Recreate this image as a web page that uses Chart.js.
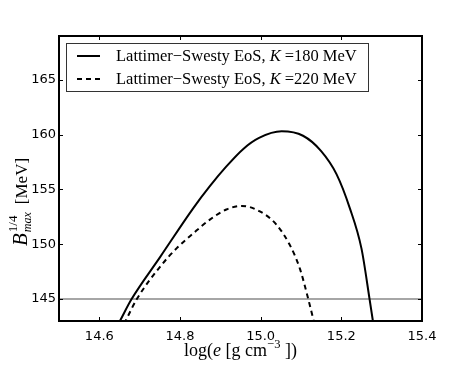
<!DOCTYPE html>
<html>
<head>
<meta charset="utf-8">
<script src="https://cdn.jsdelivr.net/npm/chart.js@4/dist/chart.umd.min.js"></script>
<style>
  html, body { margin: 0; padding: 0; background: #fff; }
  #wrap { width: 469px; height: 365px; }
</style>
</head>
<body>
<div id="wrap"><canvas id="myChart" width="469" height="365"></canvas></div>
<script>
// данные
let xK180 = [14.635, 14.652, 14.680, 14.751, 14.833, 14.874, 14.915, 14.957, 14.996, 15.052, 15.105, 15.150, 15.188, 15.221, 15.250, 15.270, 15.278, 15.284];
let yK180 = [141.9, 143.07, 145.0, 148.85, 153.3, 155.3, 157.1, 158.7, 159.7, 160.3, 159.9, 158.5, 156.4, 153.3, 149.6, 145.0, 143.07, 141.5];
let xK220 = [14.652, 14.666, 14.693, 14.751, 14.792, 14.833, 14.874, 14.915, 14.953, 14.998, 15.039, 15.072, 15.097, 15.118, 15.130, 15.138];
let yK220 = [142.0, 143.07, 145.0, 147.97, 149.65, 151.0, 152.25, 153.17, 153.5, 153.0, 151.8, 149.95, 147.8, 145.0, 143.23, 142.0];
let xLimit = [14.5, 15.4];
let yLimit = [145, 145];
let xTicks = [14.6, 14.8, 15.0, 15.2, 15.4];
let yTicks = [145, 150, 155, 160, 165];
let legendLabels = ['180', '220'];

function pts(xs, ys){
    return xs.map(function(x, i){ return {x: x, y: ys[i]}; });
}

const serif = '"Liberation Serif", "DejaVu Serif", serif';

// рамка, внутренние риски, подписи осей и легенда
const decor = {
    id: 'decor',
    afterDraw(chart){
        const c = chart.ctx;
        const a = chart.chartArea;
        const sx = chart.scales.x, sy = chart.scales.y;
        c.save();
        c.strokeStyle = '#000';
        c.lineWidth = 1;
        xTicks.forEach(function(v){
            let px = Math.round(sx.getPixelForValue(v)) + 0.5;
            c.beginPath();
            c.moveTo(px, a.bottom); c.lineTo(px, a.bottom - 4);
            c.moveTo(px, a.top); c.lineTo(px, a.top + 4);
            c.stroke();
        });
        yTicks.forEach(function(v){
            let py = Math.round(sy.getPixelForValue(v)) + 0.5;
            c.beginPath();
            c.moveTo(a.left, py); c.lineTo(a.left + 4, py);
            c.moveTo(a.right, py); c.lineTo(a.right - 4, py);
            c.stroke();
        });
        c.lineWidth = 2;
        c.strokeRect(a.left, a.top, a.right - a.left, a.bottom - a.top);

        // легенда
        let lx = 66.5, ly = 43.5, lw = 302, lh = 48;
        c.fillStyle = '#fff';
        c.fillRect(lx, ly, lw, lh);
        c.lineWidth = 1;
        c.strokeStyle = '#333';
        c.strokeRect(lx, ly, lw, lh);
        c.strokeStyle = '#000';
        c.lineWidth = 2;
        [56, 79].forEach(function(yy, i){
            c.setLineDash(i == 0 ? [] : [5, 4]);
            c.beginPath();
            c.moveTo(77, yy); c.lineTo(100, yy);
            c.stroke();
            c.setLineDash([]);
            c.fillStyle = '#000';
            c.textBaseline = 'alphabetic';
            c.textAlign = 'left';
            let tx = 116, ty = yy + 5;
            c.font = '16.5px ' + serif;
            let t1 = 'Lattimer\u2212Swesty EoS, ';
            c.fillText(t1, tx, ty);
            tx += c.measureText(t1).width;
            c.font = 'italic 16.5px ' + serif;
            c.fillText('K', tx, ty);
            tx += c.measureText('K').width + 4;
            c.font = '16.5px ' + serif;
            c.fillText('=' + legendLabels[i] + ' MeV', tx, ty);
        });

        // подпись оси X
        let runs = [
            ['log(', '18px', 0], ['e', 'italic 18px', 0], [' [g cm', '18px', 0],
            ['\u22123', '12.5px', -8], [' ])', '18px', 0]
        ];
        let total = 0;
        runs.forEach(function(r){ c.font = r[1] + ' ' + serif; total += c.measureText(r[0]).width; });
        let x0 = (a.left + a.right) / 2 - total / 2, by = 356;
        runs.forEach(function(r){
            c.font = r[1] + ' ' + serif;
            c.fillText(r[0], x0, by + r[2]);
            x0 += c.measureText(r[0]).width;
        });

        // подпись оси Y (повернута)
        c.translate(27, 246);
        c.rotate(-Math.PI / 2);
        c.font = 'italic 21px ' + serif;
        c.fillText('B', 0, 0);
        let bw = c.measureText('B').width;
        c.font = '13px ' + serif;
        c.fillText('1/4', bw + 1, -10);
        c.font = 'italic 12px ' + serif;
        c.fillText('max', bw + 1, 4);
        let mw = c.measureText('max').width;
        c.font = '17px ' + serif;
        c.fillText('[MeV]', bw + mw + 9, 0);
        c.restore();
    }
};

var ctx = document.getElementById('myChart').getContext('2d');
var myChart = new Chart(ctx, {
    type: 'scatter',
    data: {
        datasets: [{
            label: 'K=180',
            data: pts(xK180, yK180),
            showLine: true,
            borderColor: '#000',
            borderWidth: 2,
            pointRadius: 0,
            cubicInterpolationMode: 'monotone'
        }, {
            label: 'K=220',
            data: pts(xK220, yK220),
            showLine: true,
            borderColor: '#000',
            borderWidth: 2,
            borderDash: [5, 4],
            pointRadius: 0,
            cubicInterpolationMode: 'monotone'
        }, {
            label: 'limit',
            data: pts(xLimit, yLimit),
            showLine: true,
            borderColor: '#888',
            borderWidth: 1.5,
            pointRadius: 0
        }]
    },
    options: {
        responsive: false,
        animation: false,
        layout: { padding: { left: 0, top: 36, right: 47, bottom: 0 } },
        plugins: { legend: { display: false }, tooltip: { enabled: false } },
        scales: {
            x: {
                type: 'linear',
                min: 14.5, max: 15.4,
                grid: { display: false, drawTicks: false },
                border: { display: false },
                afterBuildTicks: function(s){ s.ticks = xTicks.map(function(v){ return {value: v}; }); },
                afterFit: function(s){ s.height = 44; },
                ticks: {
                    color: '#000', padding: 8, maxRotation: 0,
                    font: { family: '"DejaVu Sans", sans-serif', size: 13 },
                    callback: function(v){ return v.toFixed(1); }
                }
            },
            y: {
                min: 143, max: 169,
                grid: { display: false, drawTicks: false },
                border: { display: false },
                afterBuildTicks: function(s){ s.ticks = yTicks.map(function(v){ return {value: v}; }); },
                afterFit: function(s){ s.width = 59; },
                ticks: {
                    color: '#000', padding: 3,
                    font: { family: '"DejaVu Sans", sans-serif', size: 13 }
                }
            }
        }
    },
    plugins: [decor]
});
</script>
</body>
</html>
